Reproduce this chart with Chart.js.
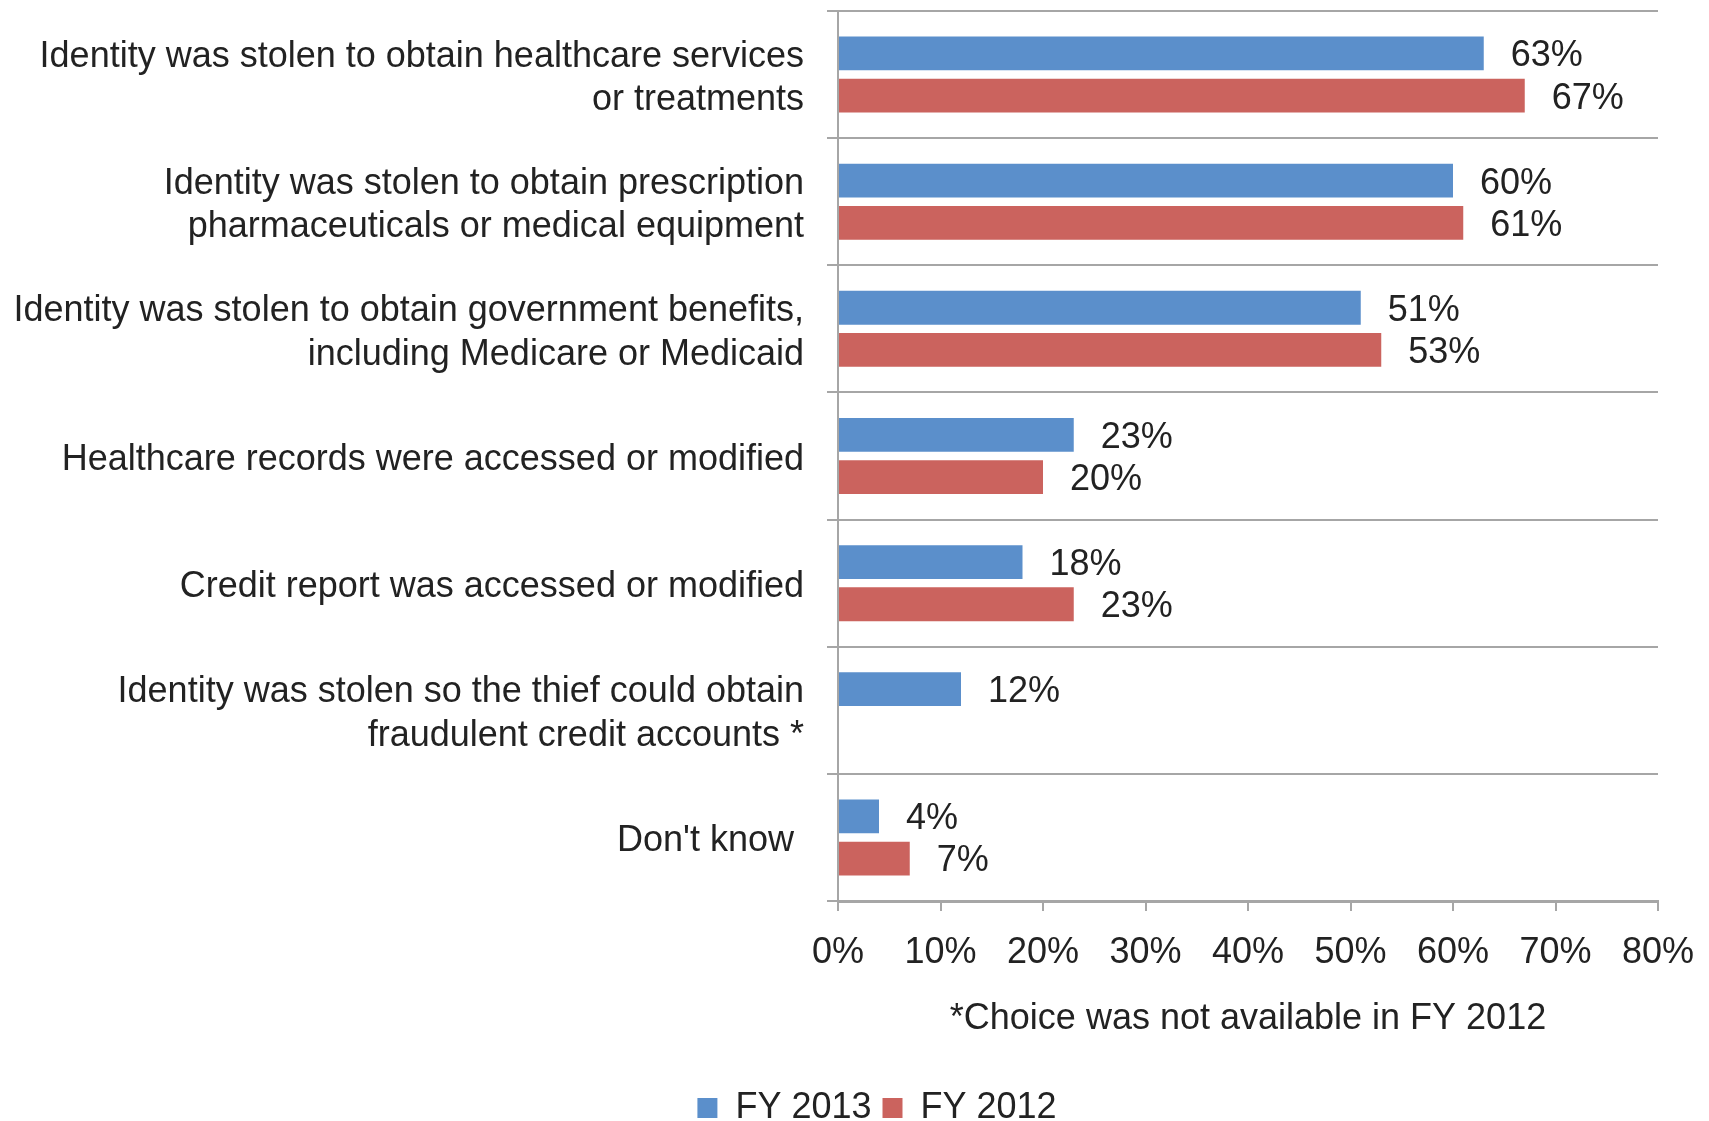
<!DOCTYPE html>
<html>
<head>
<meta charset="utf-8">
<script src="https://cdn.jsdelivr.net/npm/chart.js@4/dist/chart.umd.min.js"></script>
<style>
  html, body { margin: 0; padding: 0; background: #fff; }
  #wrap { width: 1709px; height: 1121px; }
</style>
</head>
<body>
<div id="wrap"><canvas id="chart-identity"></canvas></div>
<script>
const categories = [
  ["Identity was stolen to obtain healthcare services", "or treatments"],
  ["Identity was stolen to obtain prescription", "pharmaceuticals or medical equipment"],
  ["Identity was stolen to obtain government benefits,", "including Medicare or Medicaid"],
  "Healthcare records were accessed or modified",
  "Credit report was accessed or modified",
  ["Identity was stolen so the thief could obtain", "fraudulent credit accounts *"],
  "Don't know "
];
const fy2013 = [63, 60, 51, 23, 18, 12, 4];
const fy2012 = [67, 61, 53, 20, 23, null, 7];
const xTicks = [0, 10, 20, 30, 40, 50, 60, 70, 80];
const footnote = "*Choice was not available in FY 2012";

const FONT = "'Liberation Sans', Arial, sans-serif";
const TEXT = "#222222";
const GRID = "#a6a6a6";

// value labels at the end of each bar
const valueLabels = {
  id: "valueLabels",
  afterDatasetsDraw(chart) {
    const ctx = chart.ctx;
    ctx.save();
    ctx.font = "36px " + FONT;
    ctx.fillStyle = TEXT;
    ctx.textAlign = "left";
    ctx.textBaseline = "middle";
    chart.data.datasets.forEach(function (ds, i) {
      chart.getDatasetMeta(i).data.forEach(function (bar, j) {
        const v = ds.data[j];
        if (v === null || v === undefined) return;
        ctx.fillText(v + "%", bar.x + 27, bar.y + 3);
      });
    });
    ctx.restore();
  }
};

// category labels sit a few px lower in the original
const nudgeLabels = {
  id: "nudgeLabels",
  afterUpdate(chart) {
    chart.scales.y.getLabelItems().forEach(function (item) {
      item.options.translation[1] += 4;
    });
  }
};

const config = {
  type: "bar",
  data: {
    labels: categories,
    datasets: [
      { label: "FY 2013", data: fy2013, backgroundColor: "#5b8fcb",
        categoryPercentage: 0.664, barPercentage: 0.8 },
      { label: "FY 2012", data: fy2012, backgroundColor: "#cb635e",
        categoryPercentage: 0.664, barPercentage: 0.8 }
    ]
  },
  options: {
    indexAxis: "y",
    responsive: true,
    maintainAspectRatio: false,
    animation: false,
    // negative right padding only moves the full-width legend to the right
    layout: { padding: { top: 11, right: -35, left: 10, bottom: 0 } },
    plugins: {
      legend: {
        position: "bottom",
        maxHeight: 42,
        labels: {
          font: { family: FONT, size: 36 },
          color: TEXT,
          boxWidth: 20,
          boxHeight: 20,
          padding: 11
        }
      },
      tooltip: { enabled: false }
    },
    scales: {
      x: {
        min: 0,
        max: 80,
        afterBuildTicks: function (scale) {
          scale.ticks = xTicks.map(function (v) { return { value: v }; });
        },
        afterFit: function (scale) {
          scale.height = 178;
          scale.paddingRight = 51;
        },
        ticks: {
          callback: function (v) { return v + "%"; },
          font: { family: FONT, size: 36, lineHeight: 1.2 },
          color: TEXT,
          padding: 20,
          maxRotation: 0
        },
        grid: { drawOnChartArea: false, drawTicks: true, tickLength: 10, color: GRID, lineWidth: 2 },
        border: { color: GRID, width: 3 },
        title: {
          display: true,
          text: footnote,
          font: { family: FONT, size: 36, lineHeight: 1.2 },
          color: TEXT,
          padding: { top: 10, bottom: 38 }
        }
      },
      y: {
        afterFit: function (scale) {
          scale.width = 828;
          scale.paddingTop = 0;
          scale.paddingBottom = 0;
        },
        ticks: {
          font: { family: FONT, size: 36, lineHeight: 1.21 },
          color: TEXT,
          padding: 23,
          crossAlign: "near"
        },
        grid: { offset: true, color: GRID, lineWidth: 2, tickLength: 11 },
        border: { color: GRID, width: 2 }
      }
    }
  },
  plugins: [valueLabels, nudgeLabels]
};

new Chart(document.getElementById("chart-identity"), config);
</script>
</body>
</html>
